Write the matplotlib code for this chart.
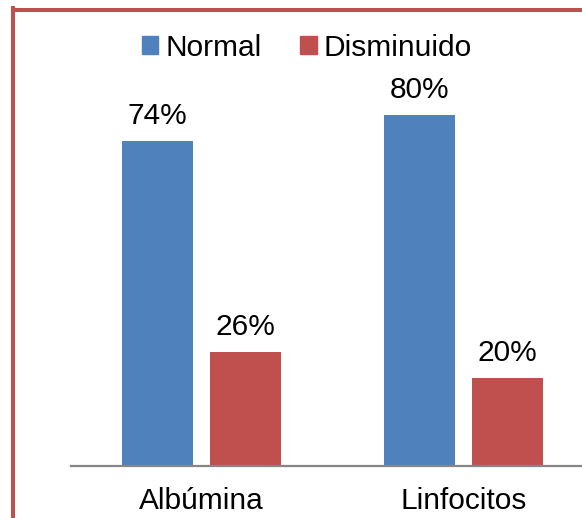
import matplotlib.pyplot as plt
from matplotlib.lines import Line2D
from matplotlib.patches import Patch
import numpy as np

categories = ["Albúmina", "Linfocitos"]
normal = [74, 80]
disminuido = [26, 20]
series_names = ["Normal", "Disminuido"]

blue = "#4F81BD"
red = "#C0504D"

plt.rcParams['font.family'] = ['Liberation Sans', 'DejaVu Sans']
fs = 21.5

W, H = 582, 518
fig = plt.figure(figsize=(W / 100, H / 100), dpi=100)

# axes placed in pixel terms: baseline at y=466, categories 261.5 px apart
left_px, right_px = 71, 594
base_px, top_px = 466, 466 - 4.39 * 90
ax = fig.add_axes([left_px / W, (H - base_px) / H,
                   (right_px - left_px) / W, (base_px - top_px) / H])

x = np.arange(len(categories))
bw = 0.2715
off = 0.168
b1 = ax.bar(x - off, normal, bw, color=blue)
b2 = ax.bar(x + off, disminuido, bw, color=red)

for bars, vals in [(b1, normal), (b2, disminuido)]:
    for b, v in zip(bars, vals):
        ax.annotate(f"{v}%", (b.get_x() + b.get_width() / 2, v),
                    xytext=(0, 8), textcoords="offset points",
                    ha="center", va="bottom", fontsize=fs)

ax.set_xlim(-0.5, 1.5)
ax.set_ylim(0, 90)
ax.set_xticks(x)
ax.set_xticklabels(categories, fontsize=fs)
ax.tick_params(axis="x", length=0, pad=15)
ax.set_yticks([])
for s in ["top", "right", "left"]:
    ax.spines[s].set_visible(False)
ax.spines["bottom"].set_color("#868686")
ax.spines["bottom"].set_linewidth(1.6)

handles = [Patch(color=blue), Patch(color=red)]
fig.legend(handles, series_names, loc="center", bbox_to_anchor=(307 / W, 1 - 47.5 / H),
           ncol=2, frameon=False, fontsize=fs, handlelength=0.54, handleheight=0.54,
           handletextpad=0.23, columnspacing=1.3, borderpad=0)

# red chart frame (left and top edges visible)
fig.add_artist(Line2D([12.5 / W, 12.5 / W], [0, 1 - 8 / H], color=red, lw=2.9,
                      transform=fig.transFigure, solid_capstyle="projecting"))
fig.add_artist(Line2D([12.5 / W, 1], [1 - 9.5 / H, 1 - 9.5 / H], color=red, lw=2.9,
                      transform=fig.transFigure, solid_capstyle="projecting"))

fig.savefig("out.png", dpi=100)
